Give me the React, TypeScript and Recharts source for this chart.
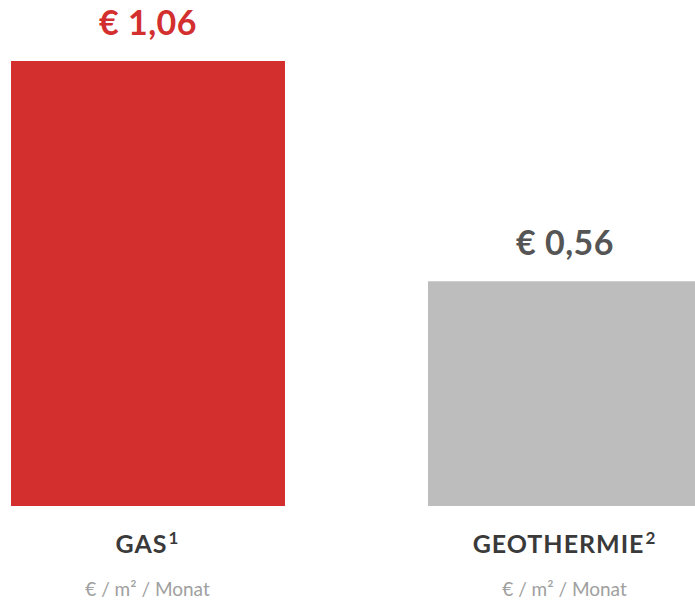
import React from "react";
import { BarChart, Bar, XAxis, YAxis, Cell, LabelList } from "recharts";

const categories = ["GAS", "GEOTHERMIE"];
const footnotes = ["1", "2"];
const values = [1.06, 0.56];
const unitLabel = "€ / m² / Monat";

const barColors = ["#d32f2f", "#bdbdbd"];
const valueColors = ["#d32f2f", "#555555"];

const data = categories.map((name, i) => ({
  name,
  note: footnotes[i],
  value: values[i],
}));

const FONT = "Lato, 'Open Sans', sans-serif";

const formatEuro = (v: number) => "€ " + v.toFixed(2).replace(".", ",");

const CategoryTick = ({ x, y, payload, index }: any) => {
  const note = footnotes[index];
  return (
    <g transform={`translate(${x},${y})`}>
      <text
        x={0}
        y={39}
        textAnchor="middle"
        fontFamily={FONT}
        fontWeight={700}
        fontSize={25}
        letterSpacing={1}
        fill="#3a3a3a"
      >
        {payload.value}
        <tspan fontSize={17} dy={-9} dx={1}>
          {note}
        </tspan>
      </text>
      <text
        x={0}
        y={82}
        textAnchor="middle"
        fontFamily={FONT}
        fontSize={19}
        fill="#a0a0a0"
      >
        {unitLabel}
      </text>
    </g>
  );
};

const ValueLabel = (props: any) => {
  const { x, y, width, value, index } = props;
  return (
    <text
      x={x + width / 2}
      y={y - 26}
      textAnchor="middle"
      fontFamily={FONT}
      fontWeight={700}
      fontSize={34}
      letterSpacing={0.5}
      fill={valueColors[index]}
    >
      {formatEuro(value)}
    </text>
  );
};

export default function App() {
  return (
    <div
      style={{
        position: "absolute",
        left: 0,
        top: 0,
        width: 695,
        height: 601,
        overflow: "hidden",
        background: "#fff",
      }}
    >
      <div style={{ position: "absolute", left: -61, top: 0 }}>
        <BarChart
          width={834}
          height={601}
          data={data}
          margin={{ top: 61, right: 0, left: 0, bottom: 0 }}
          barSize={274}
        >
          <XAxis
            dataKey="name"
            axisLine={false}
            tickLine={false}
            height={95}
            interval={0}
            tick={<CategoryTick />}
          />
          <YAxis hide domain={[0.05, 1.06]} allowDataOverflow />
          <Bar dataKey="value" isAnimationActive={false}>
            {data.map((d, i) => (
              <Cell key={d.name} fill={barColors[i]} />
            ))}
            <LabelList dataKey="value" content={<ValueLabel />} />
          </Bar>
        </BarChart>
      </div>
    </div>
  );
}
